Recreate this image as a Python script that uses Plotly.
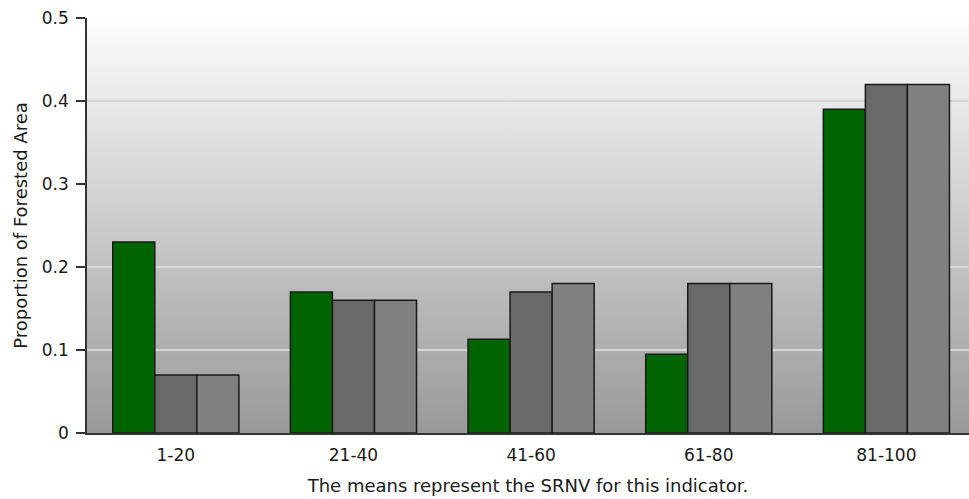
import base64
import plotly.graph_objects as go

categories = ["1-20", "21-40", "41-60", "61-80", "81-100"]
series_green = [0.23, 0.17, 0.113, 0.095, 0.39]
series_dark = [0.07, 0.16, 0.17, 0.18, 0.42]
series_light = [0.07, 0.16, 0.18, 0.18, 0.42]
y_ticks = [0, 0.1, 0.2, 0.3, 0.4, 0.5]
y_ticktext = ["0", "0.1", "0.2", "0.3", "0.4", "0.5"]
boundaries = [-0.5, 0.5, 1.5, 2.5, 3.5]

FONT = "DejaVu Sans"
TXT = "#1a1a1a"
x_range = [-0.5, 4.465]

fig = go.Figure()
for name, vals, col in [("Series 1", series_green, "#006400"),
                        ("Series 2", series_dark, "#696969"),
                        ("Series 3", series_light, "#808080")]:
    fig.add_trace(go.Bar(x=categories, y=vals, name=name,
                         marker=dict(color=col, line=dict(color="#1a1a1a", width=1.5)),
                         showlegend=False))

svg = ('<svg xmlns="http://www.w3.org/2000/svg" width="100" height="100" preserveAspectRatio="none">'
       '<defs><linearGradient id="g" x1="0" y1="0" x2="0" y2="1">'
       '<stop offset="0" stop-color="#fdfdfd"/><stop offset="1" stop-color="#999999"/>'
       '</linearGradient></defs><rect width="100" height="100" fill="url(#g)"/></svg>')
src = "data:image/svg+xml;base64," + base64.b64encode(svg.encode()).decode()

fig.update_layout(
    width=969, height=499,
    margin=dict(l=87, r=0, t=18, b=66),
    paper_bgcolor="white",
    plot_bgcolor="rgba(0,0,0,0)",
    barmode="group", bargap=0.29, bargroupgap=0,
    font=dict(family=FONT, size=17, color=TXT),
    images=[dict(source=src, xref="paper", yref="paper", x=0, y=1, sizex=1, sizey=1,
                 sizing="stretch", layer="below", xanchor="left", yanchor="top")],
    xaxis=dict(type="category", range=x_range, ticks="", showgrid=False,
               showline=True, linecolor="#333333", linewidth=1.5,
               tickfont=dict(size=17),
               title=dict(text="The means represent the SRNV for this indicator.",
                          font=dict(size=18), standoff=15),
               ticklabelstandoff=6, fixedrange=True),
    xaxis2=dict(overlaying="x", anchor="y", type="linear", range=x_range,
                tickmode="array", tickvals=boundaries, ticks="outside", ticklen=8,
                tickwidth=1.5, tickcolor="#333333", showticklabels=False,
                showgrid=False, zeroline=False, showline=False),
    xaxis3=dict(overlaying="x", anchor="y", type="linear", range=x_range,
                tickmode="array", tickvals=boundaries[1:], ticks="inside", ticklen=7,
                tickwidth=1.5, tickcolor="#333333", showticklabels=False,
                showgrid=False, zeroline=False, showline=False),
    yaxis=dict(range=[0, 0.5], tickmode="array", tickvals=y_ticks, ticktext=y_ticktext,
               ticks="outside", ticklen=9, tickwidth=1.5, tickcolor="#333333",
               showline=True, linecolor="#333333", linewidth=1.5,
               showgrid=True, gridcolor="#d6d6d6", gridwidth=1.5, zeroline=False,
               tickfont=dict(size=17),
               title=dict(text="Proportion of Forested Area", font=dict(size=18), standoff=10),
               ticklabelstandoff=4, fixedrange=True),
    yaxis2=dict(overlaying="y", anchor="x", range=[0, 0.5], tickmode="array",
                tickvals=y_ticks, ticks="inside", ticklen=6, tickwidth=1.5,
                tickcolor="#333333", showticklabels=False, showgrid=False,
                zeroline=False, showline=False),
)

fig.write_html("out.html", config={"displayModeBar": False},
               post_script="document.body.style.margin='0';document.body.style.padding='0';")
